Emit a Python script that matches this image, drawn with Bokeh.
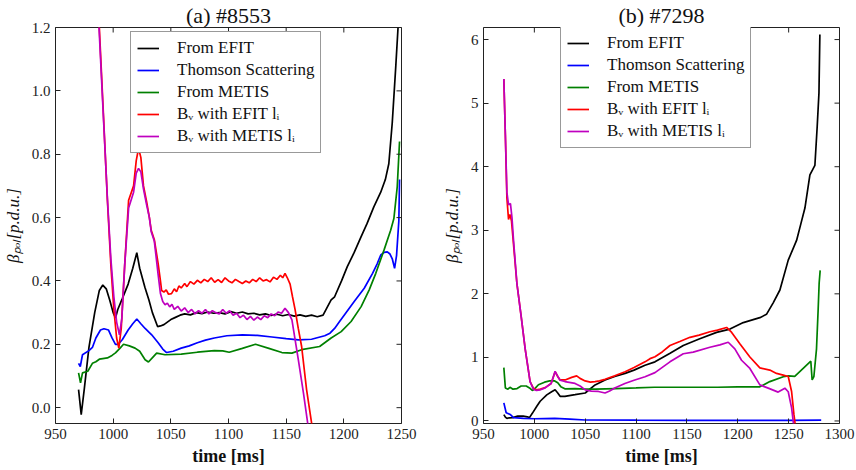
import math
from bokeh.plotting import figure
from bokeh.layouts import row
from bokeh.models import FixedTicker, PrintfTickFormatter, Range1d
from bokeh.embed import file_html
from bokeh.resources import INLINE

# ---------------- data: panel (a) shot #8553 ----------------
t_a_efit = [970, 972.3, 975, 979, 984, 988, 991, 994, 997, 1000, 1002, 1004, 1008, 1013, 1017, 1020.5, 1023,
            1027.5, 1031, 1034, 1038.5, 1041, 1044, 1047, 1050, 1054, 1058, 1062, 1067, 1072, 1077, 1082, 1087,
            1092, 1097, 1102, 1107, 1112, 1117, 1122, 1127, 1132, 1137, 1142, 1147, 1152, 1157, 1162, 1167, 1172,
            1177, 1182, 1186, 1189, 1192, 1198, 1203, 1209, 1215, 1220, 1226, 1232, 1236, 1239, 1242, 1245, 1247, 1248]
v_a_efit = [0.057, -0.022, 0.06, 0.19, 0.30, 0.37, 0.387, 0.375, 0.34, 0.30, 0.283, 0.31, 0.345, 0.39, 0.44, 0.489,
            0.44, 0.38, 0.34, 0.30, 0.256, 0.258, 0.262, 0.27, 0.278, 0.285, 0.292, 0.296, 0.293, 0.30, 0.297, 0.302,
            0.298, 0.30, 0.296, 0.303, 0.298, 0.302, 0.296, 0.298, 0.293, 0.296, 0.291, 0.295, 0.29, 0.294, 0.289,
            0.293, 0.288, 0.292, 0.287, 0.292, 0.32, 0.34, 0.35, 0.40, 0.445, 0.49, 0.54, 0.58, 0.634, 0.68, 0.72,
            0.77, 0.90, 1.075, 1.2, 1.26]

t_a_ts = [970, 971.5, 973.4, 979, 982, 985, 989, 992, 996, 999, 1002, 1004.5, 1008, 1013, 1017, 1020.5, 1024,
          1027.7, 1033.4, 1039, 1043, 1046.3, 1052, 1059, 1066, 1073, 1080, 1087.7, 1098.6, 1112, 1125, 1137.7,
          1150, 1160.6, 1172, 1183.4, 1188, 1192, 1196, 1200.6, 1209, 1217.7, 1224.9, 1229, 1232, 1235, 1237.7,
          1240, 1242, 1244, 1245.7, 1247.7, 1248.3]
v_a_ts = [0.14, 0.13, 0.167, 0.18, 0.19, 0.22, 0.245, 0.249, 0.245, 0.22, 0.20, 0.20, 0.215, 0.245, 0.265, 0.28,
          0.265, 0.25, 0.23, 0.205, 0.185, 0.174, 0.178, 0.188, 0.195, 0.205, 0.213, 0.22, 0.227, 0.23, 0.228,
          0.223, 0.218, 0.214, 0.216, 0.227, 0.235, 0.25, 0.27, 0.293, 0.335, 0.377, 0.424, 0.455, 0.482, 0.49,
          0.492, 0.485, 0.47, 0.44, 0.48, 0.59, 0.72]

t_a_metis = [970, 971.7, 973.4, 978, 982, 985, 988, 991, 995, 999, 1002, 1006, 1009, 1014, 1019, 1023, 1027.7,
             1030.6, 1034.9, 1037.7, 1045, 1059, 1073, 1087.7, 1095, 1100.6, 1112, 1123.4, 1135, 1146.3, 1155,
             1163.4, 1179, 1189, 1197.7, 1206.3, 1215, 1222, 1227.7, 1234.9, 1240.6, 1243.4, 1246.3, 1248.3]
v_a_metis = [0.11, 0.078, 0.11, 0.115, 0.14, 0.145, 0.153, 0.155, 0.157, 0.165, 0.173, 0.188, 0.20, 0.195, 0.188,
             0.178, 0.151, 0.144, 0.161, 0.172, 0.167, 0.169, 0.175, 0.18, 0.179, 0.175, 0.187, 0.20, 0.187, 0.174,
             0.172, 0.183, 0.193, 0.22, 0.24, 0.272, 0.319, 0.372, 0.424, 0.498, 0.56, 0.597, 0.697, 0.84]

t_a_bv_efit = [970, 975, 980, 985, 988, 991.5, 995, 998, 1000.6, 1003, 1004.9, 1007, 1010, 1013.4, 1017.7, 1020,
               1022, 1024, 1026.3, 1029, 1031.4, 1033, 1035.7, 1039, 1041, 1042, 1044, 1046, 1048, 1050.6, 1053,
               1055, 1057, 1059, 1062, 1064, 1067, 1070, 1073, 1076, 1079, 1082, 1085, 1088, 1091, 1094, 1097, 1100,
               1103, 1106, 1109, 1112, 1115, 1118, 1121, 1124, 1127, 1130, 1133, 1136, 1139, 1142, 1145, 1147, 1149,
               1151, 1153.4, 1155.5, 1157.7, 1160.5, 1163.4, 1167.7, 1172, 1174]
v_a_bv_efit = [2.6, 2.15, 1.75, 1.43, 1.2, 0.93, 0.655, 0.45, 0.31, 0.22, 0.188, 0.25, 0.45, 0.655, 0.70, 0.78,
               0.818, 0.79, 0.70, 0.65, 0.60, 0.56, 0.53, 0.455, 0.40, 0.37, 0.365, 0.372, 0.358, 0.36, 0.375, 0.366,
               0.384, 0.378, 0.392, 0.382, 0.398, 0.39, 0.402, 0.394, 0.405, 0.398, 0.41, 0.396, 0.404, 0.395, 0.41,
               0.40, 0.394, 0.405, 0.398, 0.392, 0.40, 0.394, 0.405, 0.398, 0.41, 0.40, 0.404, 0.397, 0.412, 0.405,
               0.418, 0.41, 0.424, 0.41, 0.39, 0.35, 0.31, 0.25, 0.193, 0.057, -0.047, -0.10]

t_a_bv_metis = [970, 975, 980, 985, 988, 991.5, 995, 998, 1000.6, 1003, 1005.4, 1007.5, 1010, 1013.4, 1017.7, 1020,
                1022, 1024, 1026.3, 1029, 1031.4, 1033, 1035.7, 1039, 1041, 1043, 1045, 1047, 1049, 1051, 1053,
                1056, 1059, 1062, 1065, 1068, 1071, 1074, 1077, 1080, 1083, 1086, 1089, 1092, 1095, 1098, 1101,
                1104, 1107, 1110, 1113, 1116, 1119, 1122, 1125, 1128, 1131, 1134, 1137, 1140, 1143, 1146, 1149,
                1152, 1155, 1157.5, 1160.6, 1165, 1168.6, 1170]
v_a_bv_metis = [2.6, 2.13, 1.73, 1.41, 1.18, 0.92, 0.66, 0.47, 0.35, 0.27, 0.23, 0.28, 0.45, 0.63, 0.68, 0.74,
                0.755, 0.745, 0.69, 0.64, 0.60, 0.555, 0.525, 0.42, 0.36, 0.335, 0.325, 0.33, 0.318, 0.326, 0.31,
                0.32, 0.305, 0.315, 0.30, 0.31, 0.296, 0.306, 0.298, 0.31, 0.296, 0.306, 0.30, 0.296, 0.31, 0.298,
                0.306, 0.292, 0.298, 0.284, 0.292, 0.278, 0.288, 0.276, 0.286, 0.278, 0.29, 0.284, 0.296, 0.29,
                0.302, 0.298, 0.314, 0.30, 0.277, 0.22, 0.15, 0.046, -0.047, -0.10]

# ---------------- data: panel (b) shot #7298 ----------------
t_b_efit = [970, 971.5, 973, 975.5, 978.8, 983.7, 989, 993, 995.2, 998, 1002.4, 1005.7, 1012.2, 1017, 1020.4,
            1023, 1025.3, 1030, 1040, 1050, 1059.7, 1069.5, 1079, 1089.2, 1098, 1108.8, 1118.6, 1133, 1146.4, 1162,
            1179.2, 1192.3, 1205.4, 1221.7, 1228.2, 1234.8, 1241.4, 1249.6, 1257.8, 1262, 1266, 1270.9, 1275.8,
            1278.1, 1279.8, 1280.7]
v_b_efit = [0.10, 0.06, 0.04, 0.05, 0.052, 0.077, 0.077, 0.065, 0.052, 0.12, 0.232, 0.31, 0.41, 0.46, 0.49, 0.44,
            0.387, 0.387, 0.413, 0.44, 0.567, 0.645, 0.70, 0.748, 0.80, 0.877, 0.93, 1.06, 1.187, 1.29, 1.393,
            1.445, 1.548, 1.625, 1.677, 1.858, 2.06, 2.53, 2.84, 3.1, 3.35, 3.87, 4.02, 4.64, 5.16, 6.08]

t_b_ts = [970, 972.3, 976.2, 979.5, 989.3, 1000, 1020, 1035, 1050, 1100, 1150, 1200, 1250, 1282]
v_b_ts = [0.284, 0.13, 0.103, 0.052, 0.04, 0.035, 0.04, 0.03, 0.015, 0.012, 0.01, 0.01, 0.01, 0.012]

t_b_metis = [970, 971.5, 974, 976, 979, 983, 987, 992, 996, 998, 1000, 1004, 1010, 1015, 1020, 1023, 1026, 1030,
             1040, 1050, 1060, 1080, 1100, 1118, 1150, 1180, 1200, 1221.7, 1231.5, 1244.7, 1250, 1256, 1264.3,
             1271.8, 1273.1, 1274.8, 1277.4, 1279, 1280, 1281]
v_b_metis = [0.84, 0.52, 0.50, 0.53, 0.50, 0.51, 0.55, 0.55, 0.51, 0.48, 0.50, 0.57, 0.61, 0.63, 0.63, 0.60, 0.54,
             0.505, 0.51, 0.50, 0.50, 0.51, 0.52, 0.53, 0.53, 0.53, 0.535, 0.537, 0.619, 0.696, 0.71, 0.70, 0.826,
             0.94, 0.645, 0.696, 1.135, 1.75, 2.17, 2.37]

t_b_bv_efit = [970, 971.5, 973, 974.6, 976, 977.5, 978.9, 982.8, 987, 991, 995.8, 999, 1002, 1006, 1010.6, 1016.5,
               1020.4, 1023, 1025.3, 1030.2, 1036.7, 1041.6, 1044.9, 1049.9, 1055, 1059.7, 1064, 1069.5, 1079,
               1089.2, 1098, 1108.8, 1113.7, 1118.6, 1126, 1133.3, 1143, 1153, 1162, 1172.6, 1180, 1189, 1194,
               1202.2, 1211.9, 1221.7, 1231.5, 1238.1, 1244.7, 1249.6, 1252.9, 1255.2, 1256.8]
v_b_bv_efit = [5.38, 4.5, 3.51, 3.17, 3.25, 3.15, 2.89, 2.17, 1.65, 1.13, 0.62, 0.516, 0.49, 0.50, 0.525, 0.59,
               0.774, 0.70, 0.645, 0.645, 0.686, 0.71, 0.67, 0.63, 0.61, 0.62, 0.63, 0.655, 0.71, 0.774, 0.84, 0.93,
               0.98, 1.01, 1.09, 1.187, 1.25, 1.316, 1.35, 1.404, 1.43, 1.471, 1.393, 1.21, 1.006, 0.836, 0.80,
               0.748, 0.722, 0.70, 0.464, 0.103, -0.1]

t_b_bv_metis = [970, 971.5, 973, 974.6, 976.5, 978, 979.5, 982.8, 987, 991, 995.8, 999, 1002, 1006, 1010.6, 1016.5,
                1020.4, 1023, 1025.3, 1030, 1040, 1045, 1050, 1056, 1063, 1069.5, 1074, 1079, 1089, 1098, 1108.8,
                1118.6, 1133.3, 1146.4, 1156.2, 1172.6, 1182.4, 1190.6, 1197.1, 1203.7, 1211.9, 1221.7, 1229.9,
                1239.7, 1246.3, 1249.6, 1252.9, 1255.2]
v_b_bv_metis = [5.38, 4.5, 3.6, 3.40, 3.42, 3.2, 2.85, 2.17, 1.65, 1.13, 0.62, 0.50, 0.48, 0.49, 0.52, 0.59, 0.78,
                0.70, 0.64, 0.62, 0.59, 0.55, 0.49, 0.47, 0.464, 0.44, 0.47, 0.52, 0.59, 0.64, 0.696, 0.76, 0.93,
                1.057, 1.083, 1.16, 1.197, 1.238, 1.135, 0.955, 0.826, 0.567, 0.516, 0.454, 0.516, 0.46, 0.206, -0.1]

# ---------------- labels / ticks ----------------
titles = ["(a) #8553", "(b) #7298"]
series_labels = ["From EFIT", "Thomson Scattering", "From METIS",
                 "B\u1d65 with EFIT l\u1d62", "B\u1d65 with METIS l\u1d62"]
series_colors = ["#000000", "#0000ff", "#008000", "#ff0000", "#bf00bf"]
x_label = "time [ms]"
y_label = "\u03b2\u209a\u2092\u2097[p.d.u.]"
xticks_a = [950, 1000, 1050, 1100, 1150, 1200, 1250]
yticks_a = [0.0, 0.2, 0.4, 0.6, 0.8, 1.0, 1.2]
xticks_b = [950, 1000, 1050, 1100, 1150, 1200, 1250, 1300]
yticks_b = [0, 1, 2, 3, 4, 5, 6]

SERIF = "Liberation Serif"


def make_panel(title, series, xr, yr, xticks, yticks, yfmt, width, height, borders, legend_loc):
    bl, br, bt, bb = borders
    p = figure(width=width, height=height, output_backend="svg", toolbar_location=None,
               x_range=Range1d(*xr), y_range=Range1d(*yr),
               min_border_left=bl, min_border_right=br, min_border_top=bt, min_border_bottom=bb)
    p.background_fill_color = "white"
    p.border_fill_color = "white"
    p.outline_line_color = "#222222"
    p.outline_line_width = 1
    p.xgrid.visible = False
    p.ygrid.visible = False

    p.title.text = title
    p.title.align = "center"
    p.title.text_font = SERIF
    p.title.text_font_size = "22px"
    p.title.text_font_style = "normal"
    p.title.text_color = "#111111"
    p.title.standoff = 0
    p.title.offset = 0

    for (t, v), lab, col in zip(series, series_labels, series_colors):
        p.line(t, v, line_color=col, line_width=1.7, legend_label=lab)

    # mirrored inward ticks on the top and right spines (half of each dash is clipped by the frame)
    p.scatter(xticks, [yr[1]] * len(xticks), marker="dash", angle=math.pi / 2, size=10,
              line_color="#222222", line_width=1)
    p.scatter([xr[1]] * len(yticks), yticks, marker="dash", size=10,
              line_color="#222222", line_width=1)

    for ax in (p.xaxis[0], p.yaxis[0]):
        ax.axis_line_color = None
        ax.major_tick_in = 5
        ax.major_tick_out = 0
        ax.minor_tick_line_color = None
        ax.major_tick_line_color = "#222222"
        ax.major_label_text_font = SERIF
        ax.major_label_text_font_size = "15px"
        ax.major_label_text_color = "#222222"
        ax.major_label_standoff = 5
        ax.axis_label_text_font = SERIF
        ax.axis_label_text_color = "#111111"
    p.xaxis[0].ticker = FixedTicker(ticks=xticks)
    p.yaxis[0].ticker = FixedTicker(ticks=yticks)
    p.yaxis[0].formatter = PrintfTickFormatter(format=yfmt)
    p.xaxis[0].axis_label = x_label
    p.xaxis[0].axis_label_text_font_size = "18px"
    p.xaxis[0].axis_label_text_font_style = "bold"
    p.xaxis[0].axis_label_standoff = 4
    p.yaxis[0].axis_label = y_label
    p.yaxis[0].axis_label_text_font_size = "17px"
    p.yaxis[0].axis_label_text_font_style = "italic"
    p.yaxis[0].axis_label_standoff = 6

    lg = p.legend[0]
    lg.location = legend_loc
    lg.background_fill_color = "white"
    lg.background_fill_alpha = 1
    lg.border_line_color = "#333333"
    lg.border_line_width = 1
    lg.label_text_font = SERIF
    lg.label_text_font_size = "17px"
    lg.label_text_color = "#111111"
    lg.glyph_width = 22
    lg.glyph_height = 16
    lg.label_height = 16
    lg.label_standoff = 18
    lg.spacing = 2
    lg.padding = 6
    lg.margin = 0
    return p


pa = make_panel(titles[0],
                [(t_a_efit, v_a_efit), (t_a_ts, v_a_ts), (t_a_metis, v_a_metis),
                 (t_a_bv_efit, v_a_bv_efit), (t_a_bv_metis, v_a_bv_metis)],
                (950, 1250), (-0.05, 1.2), xticks_a, yticks_a, "%.1f",
                430, 470, (52, 29, 27, 46), (75, 270))
pb = make_panel(titles[1],
                [(t_b_efit, v_b_efit), (t_b_ts, v_b_ts), (t_b_metis, v_b_metis),
                 (t_b_bv_efit, v_b_bv_efit), (t_b_bv_metis, v_b_bv_metis)],
                (950, 1300), (-0.04, 6.19), xticks_b, yticks_b, "%d",
                426, 470, (53, 17, 21, 47), (77, 275))

layout = row(pa, pb)
open("out.html", "w").write(file_html(layout, INLINE))
